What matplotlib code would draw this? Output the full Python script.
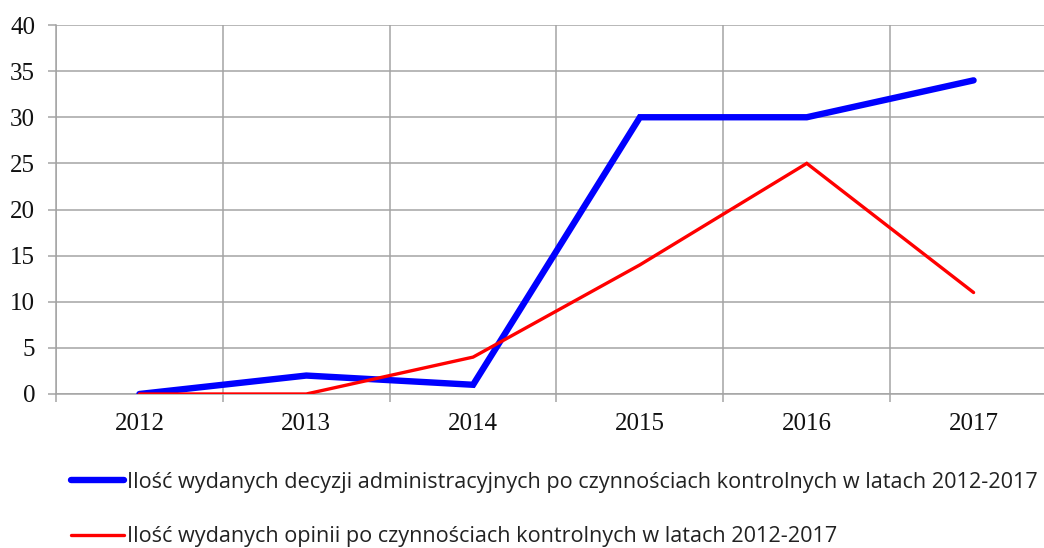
import matplotlib
matplotlib.use("Agg")
import matplotlib.pyplot as plt
import numpy as np

years = ["2012", "2013", "2014", "2015", "2016", "2017"]
decyzje = [0, 2, 1, 30, 30, 34]
opinie = [0, 0, 4, 14, 25, 11]
label_decyzje = "Ilość wydanych decyzji administracyjnych po czynnościach kontrolnych w latach 2012-2017"
label_opinie = "Ilość wydanych opinii po czynnościach kontrolnych w latach 2012-2017"

fig = plt.figure(figsize=(10.44, 5.48), dpi=100)
ax = fig.add_axes([56/1044, 154/548, 1001/1044, 369/548])

x = np.arange(len(years))
l1, = ax.plot(x, decyzje, color="#0000ff", lw=4.6, solid_capstyle="round", solid_joinstyle="miter", label=label_decyzje, zorder=3)
l2, = ax.plot(x, opinie, color="#ff0000", lw=2.4, solid_capstyle="round", solid_joinstyle="miter", label=label_opinie, zorder=3)

ax.set_xlim(-0.5, len(years) - 0.5)
ax.set_ylim(0, 40)
ax.set_yticks(np.arange(0, 41, 5))
ax.set_xticks(x)
ax.set_xticklabels(years)
ax.set_xticks(np.arange(-0.5, len(years), 1), minor=True)

gc = "#a4a4a4"
ax.grid(True, which="major", axis="y", color=gc, lw=1.1)
ax.grid(True, which="minor", axis="x", color=gc, lw=1.1)
for s in ["top", "right"]:
    ax.spines[s].set_visible(False)
for s in ["left", "bottom"]:
    ax.spines[s].set_color(gc)
    ax.spines[s].set_linewidth(1.1)

ax.tick_params(axis="x", which="major", length=0, pad=14)
ax.tick_params(axis="x", which="minor", length=6, color=gc, width=1.1)
ax.tick_params(axis="y", length=6, color=gc, width=1.1, pad=9)
for lab in ax.get_xticklabels() + ax.get_yticklabels():
    lab.set_fontfamily("Liberation Serif")
    lab.set_fontsize(18)
    lab.set_color("#111111")

leg = fig.legend(handles=[l1, l2], loc="upper left", bbox_to_anchor=(71/1044, 1 - 472/548),
                 frameon=False, prop={"family": "Open Sans", "size": 15.6},
                 handlelength=2.45, handletextpad=0.14, labelspacing=1.53, borderaxespad=0, borderpad=0)
for t in leg.get_texts():
    t.set_color("#222222")

fig.savefig("out.png", dpi=100)
